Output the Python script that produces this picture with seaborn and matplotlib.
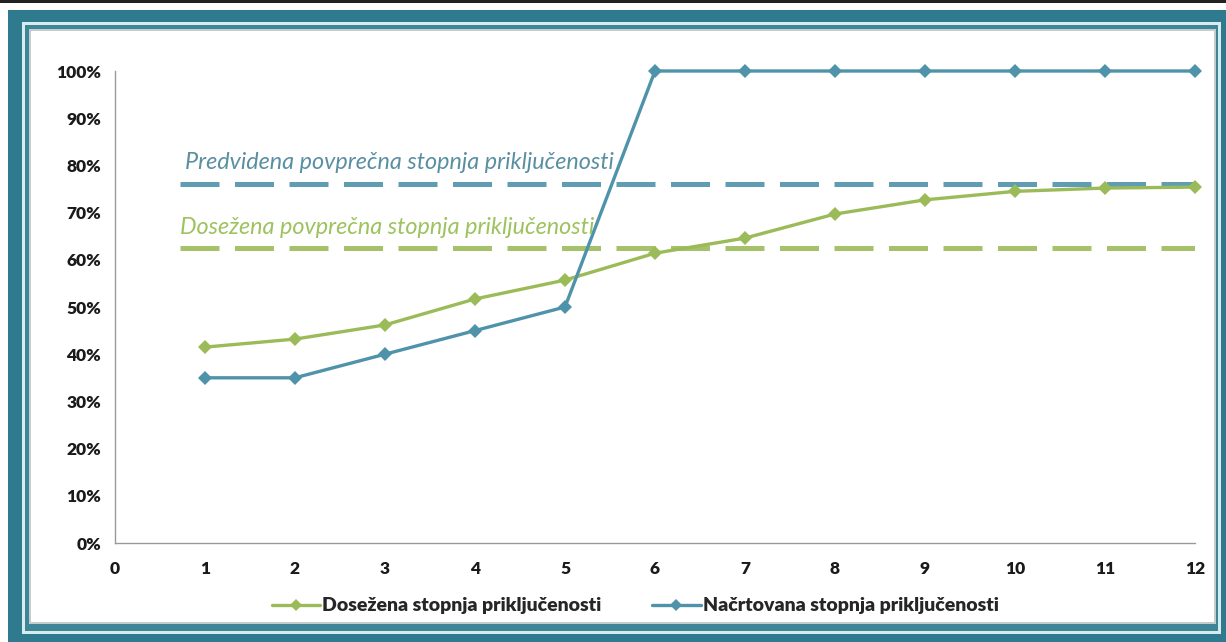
import matplotlib
matplotlib.use("Agg")
import matplotlib.pyplot as plt
from matplotlib.patches import Rectangle
from matplotlib.lines import Line2D
import seaborn as sns
import pandas as pd
import numpy as np

# ---- data ----
months = [1, 2, 3, 4, 5, 6, 7, 8, 9, 10, 11, 12]
dosezena = [0.415, 0.432, 0.462, 0.517, 0.557, 0.614, 0.646, 0.697, 0.727, 0.745, 0.752, 0.754]
nacrtovana = [0.35, 0.35, 0.40, 0.45, 0.50, 1.0, 1.0, 1.0, 1.0, 1.0, 1.0, 1.0]
avg_predvidena = 0.76
avg_dosezena = 0.625
series_names = ["Dosežena stopnja priključenosti", "Načrtovana stopnja priključenosti"]
avg_labels = ["Predvidena povprečna stopnja priključenosti", "Dosežena povprečna stopnja priključenosti"]
x_ticks = list(range(0, 13))
y_ticks = [0, 0.1, 0.2, 0.3, 0.4, 0.5, 0.6, 0.7, 0.8, 0.9, 1.0]

GREEN = "#9BBB59"
BLUE = "#4F93AB"
TEAL = "#2F7A8F"

sns.set_theme(style="white")
plt.rcParams['font.family'] = ['Lato', 'DejaVu Sans']

W, H = 1226, 642
fig = plt.figure(figsize=(W / 100, H / 100), dpi=100, facecolor="white")

def px_rect(x0, y0_top, x1, y1_top, **kw):
    # coordinates in pixels from top-left
    r = Rectangle((x0 / W, 1 - y1_top / H), (x1 - x0) / W, (y1_top - y0_top) / H,
                  transform=fig.transFigure, **kw)
    fig.patches.append(r)

# frame
px_rect(0, 0, W, 3, facecolor="#222222", edgecolor="none", zorder=-10)
px_rect(8, 10, W, 642, facecolor=TEAL, edgecolor="none", zorder=-10)
px_rect(22, 22, 1221, 634, facecolor="#d6ecef", edgecolor="none", zorder=-9)
px_rect(25, 25, 1218, 631, facecolor="#3d8597", edgecolor="none", zorder=-8)
px_rect(29, 29, 1216, 624, facecolor="#c4cccc", edgecolor="none", zorder=-7)
px_rect(31, 31, 1214, 622, facecolor="white", edgecolor="none", zorder=-6)

ax = fig.add_axes([115 / W, 1 - 543 / H, (1195 - 115) / W, (543 - 71) / H])
ax.set_facecolor("none")
ax.set_zorder(2)

df = pd.DataFrame({
    "x": months * 2,
    "y": dosezena + nacrtovana,
    "s": [series_names[0]] * len(months) + [series_names[1]] * len(months),
})
sns.lineplot(data=df, x="x", y="y", hue="s", palette=[GREEN, BLUE], marker="D",
             markersize=7, linewidth=2.4, markeredgewidth=0, ax=ax, legend=False, zorder=4)
for ln in ax.get_lines():
    ln.set_clip_on(False)

# average dashed lines
ax.hlines(avg_predvidena, 0.72, 12.05, colors=BLUE, linewidth=3.6,
          linestyles=(0, (7.8, 3.1)), alpha=0.9, zorder=3)
ax.hlines(avg_dosezena, 0.72, 12.0, colors=GREEN, linewidth=3.6,
          linestyles=(0, (7.8, 3.1)), alpha=0.9, zorder=3)

ax.text(0.78, 0.807, avg_labels[0], color="#5A8FA2", fontsize=16.8, style="italic",
        ha="left", va="center", zorder=5)
ax.text(0.72, 0.668, avg_labels[1], color="#9DC25E", fontsize=16.8, style="italic",
        ha="left", va="center", zorder=5)

ax.set_xlim(0, 12)
ax.set_ylim(0, 1.0)
ax.set_xticks(x_ticks)
ax.set_yticks(y_ticks)
ax.set_xticklabels([str(t) for t in x_ticks])
ax.set_yticklabels([f"{int(round(t * 100))}%" for t in y_ticks])
ax.tick_params(axis="both", which="both", length=4, color="#9a9a9a", width=1,
               labelsize=12.5, labelcolor="#1a1a1a", pad=6, direction="out")
ax.tick_params(axis="x", pad=9)
for lab in ax.get_xticklabels() + ax.get_yticklabels():
    lab.set_fontweight("heavy")
for s in ["top", "right"]:
    ax.spines[s].set_visible(False)
for s in ["left", "bottom"]:
    ax.spines[s].set_color("#9a9a9a")
    ax.spines[s].set_linewidth(1)
ax.set_xlabel("")
ax.set_ylabel("")
ax.grid(False)

handles = [Line2D([0], [0], color=GREEN, marker="D", markersize=6, linewidth=2.4, markeredgewidth=0),
           Line2D([0], [0], color=BLUE, marker="D", markersize=6, linewidth=2.4, markeredgewidth=0)]
leg = fig.legend(handles, series_names, loc="center", bbox_to_anchor=(0.518, 1 - 606 / H),
                 ncol=2, frameon=False, handlelength=2.5, handletextpad=0.1,
                 columnspacing=2.6, prop={"weight": "heavy", "size": 14})

fig.savefig("out.png", dpi=100, facecolor="white")
